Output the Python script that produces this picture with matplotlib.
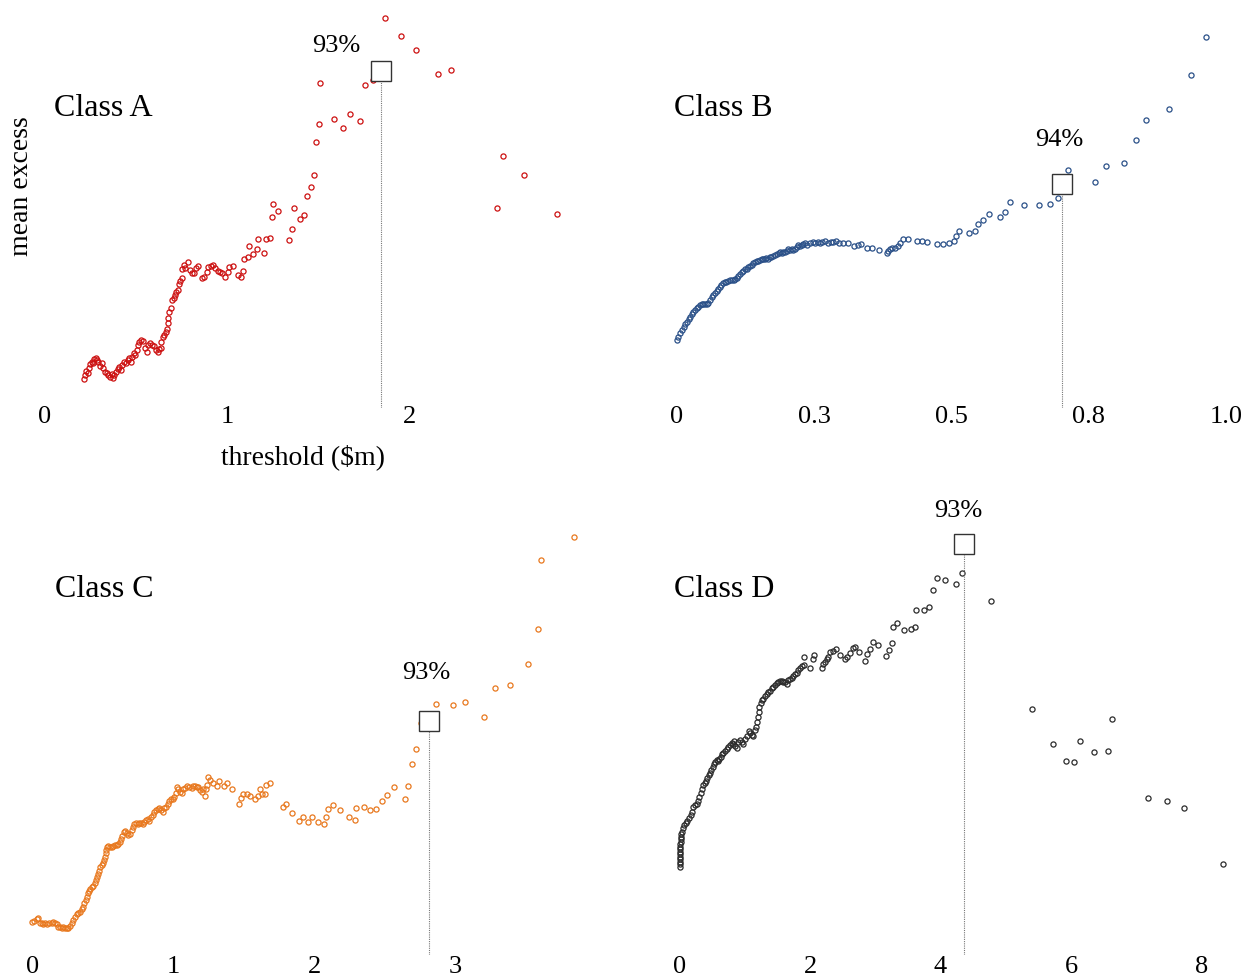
import matplotlib
matplotlib.use("Agg")
import matplotlib.pyplot as plt

plt.rcParams["font.family"] = ["Liberation Serif", "DejaVu Serif"]

# mean excess function for each class: threshold ($m) vs mean excess
a_x = [0.216, 0.220, 0.225, 0.234, 0.242, 0.247, 0.256, 0.266, 0.271, 0.278,
       0.284, 0.293, 0.302, 0.311, 0.320, 0.330, 0.339, 0.348, 0.357, 0.366,
       0.375, 0.381, 0.388, 0.399, 0.407, 0.418, 0.425, 0.436, 0.443, 0.454,
       0.462, 0.473, 0.480, 0.487, 0.495, 0.504, 0.509, 0.516, 0.527, 0.537,
       0.549, 0.559, 0.568, 0.577, 0.590, 0.601, 0.608, 0.619, 0.626, 0.637,
       0.637, 0.647, 0.656, 0.663, 0.669, 0.674, 0.678, 0.683, 0.692, 0.700,
       0.707, 0.714, 0.718, 0.729, 0.736, 0.742, 0.751, 0.755, 0.762, 0.769,
       0.784, 0.797, 0.806, 0.821, 0.828, 0.839, 0.864, 0.875, 0.888, 0.897,
       0.912, 0.923, 0.934, 0.949, 0.962, 0.974, 0.989, 1.004, 1.011, 1.035,
       1.059, 1.077, 1.090, 1.095, 1.114, 1.121, 1.145, 1.163, 1.172, 1.205,
       1.214, 1.236, 1.245, 1.251, 1.282, 1.341, 1.355, 1.366, 1.401, 1.423,
       1.441, 1.463, 1.478, 1.489, 1.504, 1.511, 1.586, 1.636, 1.676, 1.729,
       1.756, 1.800, 1.870, 1.956, 2.037, 2.158, 2.233, 2.484, 2.516, 2.634,
       2.813]
a_y = [0.287, 0.330, 0.373, 0.353, 0.397, 0.440, 0.463, 0.447, 0.487, 0.497,
       0.480, 0.463, 0.420, 0.447, 0.397, 0.363, 0.347, 0.330, 0.313, 0.340,
       0.297, 0.330, 0.363, 0.387, 0.413, 0.380, 0.430, 0.463, 0.447, 0.480,
       0.497, 0.463, 0.513, 0.547, 0.530, 0.580, 0.630, 0.663, 0.680, 0.673,
       0.597, 0.563, 0.630, 0.647, 0.630, 0.623, 0.580, 0.563, 0.587, 0.597,
       0.663, 0.713, 0.730, 0.763, 0.787, 0.847, 0.897, 0.963, 0.997, 1.080,
       1.097, 1.130, 1.163, 1.180, 1.240, 1.273, 1.297, 1.387, 1.430, 1.397,
       1.463, 1.380, 1.353, 1.347, 1.397, 1.420, 1.297, 1.313, 1.363, 1.407,
       1.420, 1.430, 1.397, 1.373, 1.363, 1.353, 1.313, 1.363, 1.413, 1.420,
       1.330, 1.307, 1.373, 1.487, 1.513, 1.620, 1.540, 1.587, 1.687, 1.553,
       1.690, 1.703, 1.907, 2.040, 1.973, 1.680, 1.787, 2.000, 1.887, 1.930,
       2.120, 2.207, 2.333, 2.660, 2.840, 3.250, 2.893, 2.803, 2.943, 2.873,
       3.227, 3.283, 3.900, 3.723, 3.580, 3.343, 3.383, 2.003, 2.520, 2.333,
       1.943]

b_x = [0.000, 0.002, 0.005, 0.009, 0.012, 0.015, 0.018, 0.021, 0.024, 0.027,
       0.030, 0.033, 0.036, 0.039, 0.042, 0.045, 0.048, 0.051, 0.054, 0.057,
       0.060, 0.063, 0.066, 0.069, 0.072, 0.075, 0.078, 0.081, 0.084, 0.087,
       0.090, 0.093, 0.097, 0.100, 0.103, 0.106, 0.109, 0.112, 0.115, 0.118,
       0.121, 0.124, 0.127, 0.130, 0.133, 0.136, 0.139, 0.142, 0.145, 0.148,
       0.151, 0.154, 0.157, 0.160, 0.163, 0.166, 0.169, 0.172, 0.175, 0.179,
       0.182, 0.185, 0.188, 0.191, 0.194, 0.197, 0.200, 0.203, 0.206, 0.209,
       0.212, 0.215, 0.218, 0.221, 0.224, 0.227, 0.230, 0.233, 0.236, 0.242,
       0.247, 0.251, 0.256, 0.260, 0.265, 0.270, 0.276, 0.280, 0.285, 0.290,
       0.296, 0.302, 0.312, 0.322, 0.330, 0.336, 0.347, 0.356, 0.368, 0.382,
       0.385, 0.388, 0.391, 0.397, 0.402, 0.406, 0.412, 0.421, 0.437, 0.446,
       0.455, 0.473, 0.484, 0.496, 0.505, 0.508, 0.514, 0.532, 0.543, 0.549,
       0.558, 0.569, 0.589, 0.598, 0.607, 0.632, 0.659, 0.679, 0.694, 0.712,
       0.762, 0.782, 0.815, 0.836, 0.855, 0.896, 0.936, 0.964]
b_y = [0.680, 0.713, 0.747, 0.780, 0.813, 0.840, 0.863, 0.887, 0.913, 0.940,
       0.963, 0.980, 0.997, 1.013, 1.027, 1.037, 1.040, 1.037, 1.040, 1.053,
       1.080, 1.107, 1.130, 1.153, 1.170, 1.187, 1.207, 1.227, 1.247, 1.260,
       1.263, 1.270, 1.277, 1.280, 1.280, 1.287, 1.297, 1.320, 1.340, 1.360,
       1.373, 1.387, 1.393, 1.407, 1.420, 1.433, 1.447, 1.460, 1.467, 1.467,
       1.480, 1.487, 1.493, 1.493, 1.500, 1.493, 1.507, 1.507, 1.520, 1.530,
       1.540, 1.547, 1.563, 1.553, 1.563, 1.560, 1.573, 1.587, 1.577, 1.590,
       1.580, 1.593, 1.613, 1.627, 1.620, 1.630, 1.640, 1.647, 1.627, 1.647,
       1.657, 1.653, 1.660, 1.647, 1.660, 1.673, 1.647, 1.657, 1.663, 1.673,
       1.653, 1.653, 1.647, 1.623, 1.630, 1.640, 1.603, 1.603, 1.580, 1.553,
       1.567, 1.590, 1.600, 1.603, 1.620, 1.647, 1.687, 1.687, 1.667, 1.673,
       1.663, 1.643, 1.640, 1.653, 1.670, 1.720, 1.773, 1.753, 1.767, 1.840,
       1.880, 1.937, 1.910, 1.960, 2.063, 2.030, 2.027, 2.040, 2.097, 2.380,
       2.260, 2.420, 2.450, 2.680, 2.880, 2.993, 3.327, 3.713]

c_x = [0.000, 0.013, 0.030, 0.041, 0.053, 0.065, 0.077, 0.089, 0.100, 0.117,
       0.136, 0.148, 0.160, 0.171, 0.183, 0.195, 0.207, 0.219, 0.230, 0.242,
       0.254, 0.266, 0.278, 0.290, 0.301, 0.313, 0.325, 0.337, 0.349, 0.360,
       0.368, 0.377, 0.384, 0.391, 0.401, 0.410, 0.420, 0.431, 0.443, 0.450,
       0.457, 0.467, 0.474, 0.481, 0.491, 0.500, 0.509, 0.514, 0.519, 0.524,
       0.528, 0.538, 0.550, 0.561, 0.573, 0.585, 0.597, 0.609, 0.621, 0.628,
       0.637, 0.647, 0.656, 0.668, 0.680, 0.691, 0.703, 0.710, 0.722, 0.734,
       0.746, 0.758, 0.770, 0.781, 0.793, 0.805, 0.817, 0.829, 0.840, 0.852,
       0.864, 0.876, 0.888, 0.900, 0.911, 0.923, 0.935, 0.947, 0.959, 0.970,
       0.982, 0.994, 1.006, 1.015, 1.022, 1.034, 1.046, 1.058, 1.070, 1.082,
       1.096, 1.110, 1.129, 1.141, 1.152, 1.164, 1.176, 1.188, 1.200, 1.212,
       1.223, 1.228, 1.235, 1.247, 1.259, 1.282, 1.306, 1.323, 1.358, 1.377,
       1.413, 1.467, 1.479, 1.495, 1.519, 1.543, 1.578, 1.597, 1.613, 1.630,
       1.649, 1.656, 1.684, 1.774, 1.796, 1.838, 1.890, 1.916, 1.954, 1.982,
       2.022, 2.065, 2.082, 2.098, 2.129, 2.181, 2.245, 2.287, 2.297, 2.349,
       2.394, 2.436, 2.476, 2.512, 2.561, 2.639, 2.661, 2.689, 2.718, 2.755,
       2.859, 2.980, 3.065, 3.200, 3.278, 3.387, 3.514, 3.585, 3.609, 3.843]
c_y = [0.333, 0.343, 0.357, 0.367, 0.323, 0.317, 0.310, 0.317, 0.310, 0.317,
       0.323, 0.333, 0.323, 0.310, 0.283, 0.277, 0.267, 0.283, 0.267, 0.273,
       0.267, 0.290, 0.317, 0.350, 0.383, 0.410, 0.423, 0.433, 0.457, 0.483,
       0.517, 0.550, 0.583, 0.617, 0.643, 0.663, 0.677, 0.690, 0.723, 0.750,
       0.777, 0.810, 0.840, 0.877, 0.900, 0.923, 0.950, 0.983, 1.017, 1.050,
       1.077, 1.090, 1.077, 1.077, 1.090, 1.100, 1.097, 1.110, 1.133, 1.157,
       1.190, 1.233, 1.243, 1.217, 1.200, 1.210, 1.250, 1.283, 1.310, 1.317,
       1.310, 1.323, 1.317, 1.310, 1.333, 1.350, 1.357, 1.343, 1.377, 1.400,
       1.433, 1.450, 1.457, 1.467, 1.450, 1.433, 1.467, 1.483, 1.510, 1.543,
       1.557, 1.557, 1.577, 1.617, 1.677, 1.657, 1.633, 1.623, 1.657, 1.667,
       1.690, 1.683, 1.667, 1.690, 1.690, 1.683, 1.677, 1.650, 1.633, 1.657,
       1.590, 1.663, 1.700, 1.777, 1.750, 1.723, 1.690, 1.743, 1.690, 1.723,
       1.657, 1.507, 1.567, 1.607, 1.610, 1.590, 1.557, 1.590, 1.657, 1.607,
       1.607, 1.703, 1.723, 1.477, 1.507, 1.423, 1.337, 1.377, 1.330, 1.383,
       1.330, 1.310, 1.383, 1.457, 1.503, 1.450, 1.383, 1.350, 1.473, 1.477,
       1.450, 1.463, 1.543, 1.600, 1.677, 1.557, 1.687, 1.913, 2.063, 2.317,
       2.513, 2.503, 2.527, 2.377, 2.673, 2.700, 2.910, 3.263, 3.953, 4.177]

d_x = [0.004, 0.006, 0.008, 0.009, 0.010, 0.011, 0.012, 0.013, 0.014, 0.015,
       0.017, 0.019, 0.022, 0.027, 0.033, 0.049, 0.069, 0.095, 0.120, 0.146,
       0.171, 0.192, 0.212, 0.238, 0.263, 0.284, 0.304, 0.324, 0.345, 0.365,
       0.386, 0.406, 0.427, 0.447, 0.467, 0.488, 0.508, 0.529, 0.549, 0.570,
       0.590, 0.610, 0.631, 0.651, 0.672, 0.697, 0.723, 0.748, 0.774, 0.800,
       0.815, 0.835, 0.856, 0.876, 0.897, 0.927, 0.953, 0.978, 0.999, 1.029,
       1.060, 1.080, 1.106, 1.132, 1.152, 1.172, 1.193, 1.203, 1.213, 1.223,
       1.244, 1.264, 1.285, 1.310, 1.336, 1.361, 1.387, 1.413, 1.438, 1.464,
       1.489, 1.515, 1.540, 1.566, 1.591, 1.617, 1.642, 1.668, 1.693, 1.719,
       1.745, 1.770, 1.796, 1.821, 1.847, 1.877, 1.908, 1.913, 2.000, 2.041,
       2.066, 2.179, 2.204, 2.235, 2.255, 2.281, 2.307, 2.347, 2.393, 2.460,
       2.536, 2.572, 2.613, 2.664, 2.690, 2.751, 2.843, 2.868, 2.920, 2.960,
       3.047, 3.165, 3.216, 3.252, 3.277, 3.338, 3.441, 3.543, 3.609, 3.625,
       3.742, 3.829, 3.885, 3.946, 4.069, 4.243, 4.324, 4.779, 5.397, 5.719,
       5.918, 6.051, 6.143, 6.358, 6.572, 6.623, 7.185, 7.476, 7.737, 8.330]
d_y = [0.883, 0.910, 0.933, 0.957, 0.983, 1.010, 1.033, 1.057, 1.083, 1.110,
       1.133, 1.157, 1.183, 1.210, 1.233, 1.267, 1.300, 1.323, 1.343, 1.367,
       1.400, 1.433, 1.477, 1.500, 1.510, 1.543, 1.583, 1.623, 1.657, 1.700,
       1.723, 1.743, 1.767, 1.800, 1.823, 1.850, 1.877, 1.910, 1.933, 1.950,
       1.943, 1.957, 1.983, 2.010, 2.023, 2.043, 2.057, 2.077, 2.100, 2.123,
       2.110, 2.143, 2.090, 2.073, 2.133, 2.150, 2.130, 2.110, 2.163, 2.190,
       2.240, 2.223, 2.200, 2.190, 2.250, 2.283, 2.333, 2.383, 2.433, 2.477,
       2.523, 2.550, 2.560, 2.590, 2.610, 2.633, 2.643, 2.667, 2.683, 2.700,
       2.717, 2.730, 2.737, 2.740, 2.733, 2.730, 2.710, 2.750, 2.757, 2.770,
       2.790, 2.810, 2.823, 2.850, 2.867, 2.890, 2.900, 2.983, 2.867, 2.963,
       2.997, 2.867, 2.910, 2.933, 2.957, 2.983, 3.030, 3.043, 3.057, 3.003,
       2.957, 2.983, 3.023, 3.067, 3.077, 3.033, 2.943, 3.010, 3.057, 3.133,
       3.100, 2.990, 3.050, 3.123, 3.277, 3.323, 3.250, 3.257, 3.283, 3.450,
       3.447, 3.480, 3.650, 3.770, 3.750, 3.713, 3.817, 3.543, 2.460, 2.107,
       1.943, 1.933, 2.140, 2.027, 2.043, 2.360, 1.567, 1.543, 1.467, 0.910]

class_names = ["Class A", "Class B", "Class C", "Class D"]
thresholds = [1.846, 0.701, 2.815, 4.355]
threshold_me = [3.367, 2.240, 2.343, 4.107]
pct_labels = ["93%", "94%", "93%", "93%"]
tick_values = [[0, 1, 2], [0, 0.25, 0.5, 0.75, 1.0], [0, 1, 2, 3], [0, 2, 4, 6, 8]]
tick_labels = [["0", "1", "2"], ["0", "0.3", "0.5", "0.8", "1.0"],
               ["0", "1", "2", "3"], ["0", "2", "4", "6", "8"]]

colors = ["#cc1010", "#2a5088", "#e8781e", "#2b2b2b"]
xlims = [(-0.110, 3.159), (-0.031, 1.044), (-0.053, 4.167), (-0.299, 8.743)]
ylims = [(0, 4.03), (0, 4.03), (0, 4.60), (0, 4.60)]
# axes boxes in pixels: left, top, right, bottom
boxes = [(25, 5, 620, 408), (660, 5, 1250, 408), (25, 495, 620, 955), (660, 495, 1250, 955)]
tick_pads = [-1.5, -1.5, 0.5, 0.5]
pct_offsets = [(-32, 18), (-2, 32), (-2, 34), (-4, 24)]
name_pos = [(0.049, 0.725), (0.023, 0.725), (0.050, 0.778), (0.023, 0.778)]

W, H = 1256, 976
fig = plt.figure(figsize=(W / 100, H / 100), dpi=100)

series = [(a_x, a_y), (b_x, b_y), (c_x, c_y), (d_x, d_y)]
axes = []
for i, (xs, ys) in enumerate(series):
    l, t, r, b = boxes[i]
    ax = fig.add_axes([l / W, 1 - b / H, (r - l) / W, (b - t) / H])
    axes.append(ax)

    ax.plot(xs, ys, "o", ms=3.7, mfc="none", mec=colors[i], mew=0.9,
            linestyle="none", zorder=2, clip_on=False)

    thr, me = thresholds[i], threshold_me[i]
    ax.vlines(thr, 0, me, colors="#777777", linestyles=(0, (1, 1)),
              linewidth=0.8, zorder=3)
    ax.plot(thr, me, "s", ms=14, mfc="white", mec="#333333", mew=1.0,
            zorder=4, clip_on=False)
    ax.annotate(pct_labels[i], xy=(thr, me), xytext=pct_offsets[i],
                textcoords="offset points", ha="center", va="center",
                fontsize=19)

    ax.text(name_pos[i][0], name_pos[i][1], class_names[i],
            transform=ax.transAxes, fontsize=23, ha="left", va="baseline")

    ax.set_xlim(*xlims[i])
    ax.set_ylim(*ylims[i])
    ax.set_xticks(tick_values[i])
    ax.set_xticklabels(tick_labels[i])
    ax.set_yticks([])
    ax.tick_params(axis="x", length=0, pad=tick_pads[i], labelsize=19)
    for side in ["top", "right", "bottom", "left"]:
        ax.spines[side].set_visible(False)
    ax.patch.set_alpha(0)

axes[0].set_xlabel(r"threshold (\$m)", fontsize=20, va="baseline")
axes[0].xaxis.set_label_coords(0.467, -0.139)
axes[0].set_ylabel("mean excess", fontsize=20, va="center")
axes[0].yaxis.set_label_coords(-0.006, 0.551)

fig.savefig("out.png", dpi=100)
